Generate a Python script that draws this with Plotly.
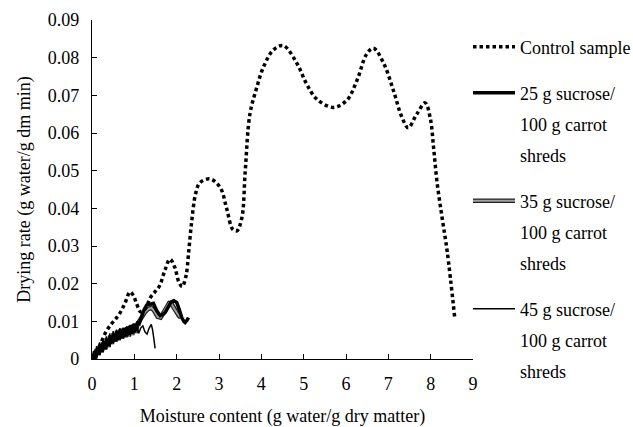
import plotly.graph_objects as go

# ---- data ----
control_x = [0.05, 0.12, 0.2, 0.33, 0.45, 0.55, 0.65, 0.77, 0.9, 0.98, 1.05, 1.15, 1.25, 1.39, 1.5, 1.6,
             1.72, 1.84, 1.95, 2.05, 2.13, 2.22, 2.28, 2.35, 2.45, 2.55, 2.79, 3.03, 3.18, 3.32, 3.42, 3.54,
             3.62, 3.73, 3.89, 4.05, 4.28, 4.52, 4.84, 5.07, 5.31, 5.7, 6.02, 6.26, 6.49, 6.65, 6.89, 7.12,
             7.32, 7.47, 7.67, 7.87, 7.99, 8.07, 8.15, 8.27, 8.39, 8.57]
control_y = [0.0, 0.002, 0.004, 0.0072, 0.0092, 0.0105, 0.012, 0.0146, 0.0178, 0.0168, 0.0148, 0.0125,
             0.0132, 0.0165, 0.018, 0.0195, 0.0235, 0.0265, 0.0245, 0.0205, 0.0192, 0.022, 0.028, 0.036,
             0.044, 0.0468, 0.0478, 0.0455, 0.040, 0.0345, 0.034, 0.0375, 0.05, 0.065, 0.072, 0.0775, 0.082,
             0.0832, 0.0785, 0.073, 0.069, 0.0668, 0.0687, 0.074, 0.081, 0.0825, 0.0785, 0.0713, 0.0642,
             0.0614, 0.065, 0.068, 0.064, 0.056, 0.047, 0.0375, 0.0286, 0.0108]

s25_x = [0.02, 0.06, 0.09, 0.13, 0.17, 0.2, 0.24, 0.28, 0.32, 0.36, 0.4, 0.44, 0.48, 0.52, 0.56, 0.6,
         0.64, 0.68, 0.72, 0.76, 0.8, 0.84, 0.88, 0.92, 0.96, 1.0, 1.04, 1.08, 1.12, 1.17, 1.22, 1.29,
         1.37, 1.45, 1.53, 1.61, 1.67, 1.73, 1.8, 1.87, 1.93, 2.0, 2.06, 2.12, 2.17, 2.2, 2.24, 2.28]
s25_y = [0.0002, 0.0020, 0.0002, 0.0029, 0.0012, 0.0038, 0.0019, 0.0046, 0.0026, 0.0054, 0.0034, 0.0062,
         0.0042, 0.0068, 0.0047, 0.0074, 0.0052, 0.0078, 0.0056, 0.0082, 0.0060, 0.0086, 0.0064, 0.0090,
         0.0068, 0.0094, 0.0074, 0.0099, 0.0095, 0.0115, 0.0128, 0.0143, 0.0146, 0.0148, 0.0128, 0.0115,
         0.0118, 0.0124, 0.0138, 0.0152, 0.0155, 0.0150, 0.0132, 0.0110, 0.0100, 0.0097, 0.0102, 0.0110]

s35_x = [0.03, 0.07, 0.11, 0.15, 0.19, 0.23, 0.27, 0.31, 0.35, 0.39, 0.43, 0.47, 0.51, 0.55, 0.59, 0.63,
         0.67, 0.71, 0.75, 0.79, 0.83, 0.87, 0.91, 0.95, 0.99, 1.03, 1.08, 1.13, 1.19, 1.25, 1.32, 1.4,
         1.47, 1.55, 1.62, 1.69, 1.76, 1.82, 1.88, 1.94, 2.0, 2.05, 2.1]
s35_y = [0.0010, 0.0002, 0.0026, 0.0010, 0.0036, 0.0018, 0.0044, 0.0026, 0.0054, 0.0032, 0.0062, 0.0040,
         0.0068, 0.0046, 0.0074, 0.0050, 0.0078, 0.0054, 0.0082, 0.0058, 0.0084, 0.0060, 0.0088, 0.0064,
         0.0092, 0.0070, 0.0094, 0.0104, 0.0115, 0.0124, 0.0132, 0.0136, 0.0128, 0.0112, 0.0110, 0.0125,
         0.0138, 0.0148, 0.0146, 0.0134, 0.0122, 0.0115, 0.0110]

s45_x = [0.02, 0.05, 0.08, 0.11, 0.14, 0.18, 0.22, 0.26, 0.3, 0.34, 0.38, 0.42, 0.46, 0.5, 0.54, 0.58,
         0.62, 0.66, 0.7, 0.74, 0.78, 0.82, 0.86, 0.9, 0.94, 0.98, 1.02, 1.06, 1.1, 1.15, 1.2, 1.25, 1.3,
         1.35, 1.4, 1.43, 1.46, 1.49]
s45_y = [0.0, 0.0022, 0.0004, 0.0034, 0.0012, 0.0044, 0.0020, 0.0052, 0.0028, 0.0060, 0.0034, 0.0068,
         0.0040, 0.0074, 0.0046, 0.0078, 0.0050, 0.0082, 0.0054, 0.0082, 0.0058, 0.0086, 0.0062, 0.0090,
         0.0066, 0.0092, 0.0070, 0.0088, 0.0068, 0.0082, 0.0088, 0.0072, 0.0066, 0.0082, 0.0092, 0.0078,
         0.0055, 0.0028]

x_ticks = [0, 1, 2, 3, 4, 5, 6, 7, 8, 9]
y_ticks = [0, 0.01, 0.02, 0.03, 0.04, 0.05, 0.06, 0.07, 0.08, 0.09]
y_tick_labels = ["0", "0.01", "0.02", "0.03", "0.04", "0.05", "0.06", "0.07", "0.08", "0.09"]

FONT = "Liberation Serif"
FS = 18

# ---- layout geometry (pixels) ----
W, H = 633, 427
L, R, T, B = 92, 160, 20, 68
plot_w = W - L - R
plot_h = H - T - B

def px_x(px):
    return (px - L) / plot_w

def px_y(py):
    return (H - B - py) / plot_h

fig = go.Figure()

# 35 g: dark outline underneath, grey core on top
fig.add_trace(go.Scatter(x=s35_x, y=s35_y, mode="lines", line=dict(color="#222222", width=4.5),
                         name="35 g sucrose/", legend="legend5"))
fig.add_trace(go.Scatter(x=s35_x, y=s35_y, mode="lines", line=dict(color="#a0a0a0", width=2),
                         name="35 g sucrose/", legend="legend6"))
fig.add_trace(go.Scatter(x=s25_x, y=s25_y, mode="lines", line=dict(color="black", width=3.5),
                         name="25 g sucrose/", legend="legend2"))
fig.add_trace(go.Scatter(x=s45_x, y=s45_y, mode="lines", line=dict(color="black", width=1.5),
                         name="45 g sucrose/", legend="legend9"))
fig.add_trace(go.Scatter(x=control_x, y=control_y, mode="lines", line_shape="spline",
                         line=dict(color="black", width=3.5, dash="3.5px,3px"),
                         name="Control sample", legend="legend"))

# text-only legend rows
extra_rows = [("100 g carrot", "legend3"), ("shreds", "legend4"),
              ("100 g carrot", "legend7"), ("shreds", "legend8"),
              ("100 g carrot", "legend10"), ("shreds", "legend11")]
for txt, lg in extra_rows:
    fig.add_trace(go.Scatter(x=[None], y=[None], mode="lines",
                             line=dict(color="rgba(0,0,0,0)", width=0),
                             name=txt, legend=lg, hoverinfo="skip"))

row_y = {"legend": 47, "legend2": 93, "legend3": 124, "legend4": 155,
         "legend5": 201, "legend6": 201, "legend7": 232, "legend8": 263,
         "legend9": 309, "legend10": 340, "legend11": 371}
legend_left_px = 468
layout_legends = {}
for lg, py in row_y.items():
    col = "rgba(0,0,0,0)" if lg == "legend6" else "black"
    layout_legends[lg] = dict(x=px_x(legend_left_px), y=px_y(py), xanchor="left", yanchor="middle",
                              bgcolor="rgba(0,0,0,0)", borderwidth=0, itemwidth=42,
                              font=dict(family=FONT, size=FS, color=col))

fig.update_layout(
    width=W, height=H,
    margin=dict(l=L, r=R, t=T, b=B, autoexpand=False),
    paper_bgcolor="white", plot_bgcolor="white",
    font=dict(family=FONT, size=FS, color="black"),
    showlegend=True,
    **layout_legends,
)

fig.update_xaxes(range=[0, 9], tickvals=x_ticks, ticks="inside", ticklen=5, tickwidth=1.3,
                 tickcolor="black", showline=True, linecolor="black", linewidth=1.3,
                 showgrid=False, zeroline=False, ticklabelstandoff=8,
                 title=dict(text="Moisture content (g water/g dry matter)", standoff=18,
                            font=dict(family=FONT, size=FS)))
fig.update_yaxes(range=[0, 0.09], tickvals=y_ticks, ticktext=y_tick_labels, ticks="inside",
                 ticklen=5, tickwidth=1.3, tickcolor="black", showline=True, linecolor="black",
                 linewidth=1.3, showgrid=False, zeroline=False, ticklabelstandoff=8,
                 title=dict(text="Drying rate (g water/g dm min)", standoff=12,
                            font=dict(family=FONT, size=FS)))

fig.write_html("out.html")
